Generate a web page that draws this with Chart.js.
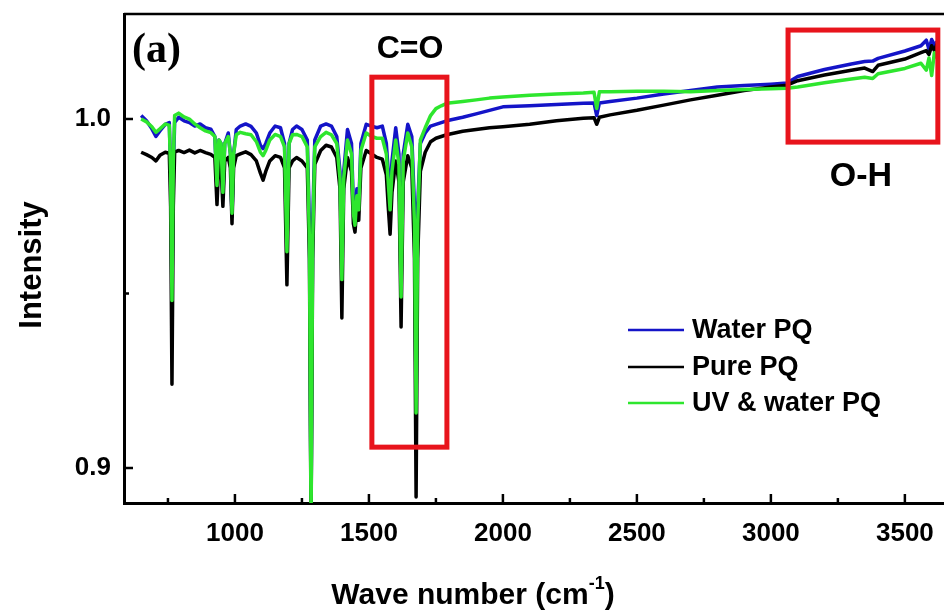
<!DOCTYPE html>
<html>
<head>
<meta charset="utf-8">
<script src="https://cdn.jsdelivr.net/npm/chart.js@4.4.1/dist/chart.umd.min.js"></script>
<style>
  html, body { margin: 0; padding: 0; background: #fff; }
  canvas { display: block; }
</style>
</head>
<body>
<canvas id="ftir" width="944" height="612"></canvas>
<script>
// wave numbers (cm-1) shared by the three spectra
const waveNumbers = [
  650, 670, 690, 705, 720, 740, 755, 760, 765, 770, 775,
  790, 810, 830, 850, 870, 890, 910, 925,
  933, 940, 948, 955, 962, 975, 983, 989, 995, 1005,
  1020, 1040, 1060, 1080, 1095, 1105, 1115, 1130, 1150,
  1170, 1185, 1194, 1202, 1215, 1230, 1250, 1270, 1278, 1284, 1290, 1298,
  1320, 1340, 1360, 1380, 1392, 1399, 1406, 1420, 1435, 1442, 1448, 1455, 1462, 1470,
  1490, 1510, 1530, 1550, 1565, 1572, 1579, 1586, 1600, 1612, 1620, 1628,
  1645, 1660, 1670, 1676, 1682, 1692, 1710, 1730, 1750, 1770, 1790,
  1850, 1900, 1950, 2000, 2100, 2200, 2300, 2340,
  2350, 2360, 2400, 2500, 2600, 2700,
  2800, 2900, 3000, 3060, 3100, 3200, 3300,
  3350, 3380, 3400, 3500, 3560, 3580, 3590, 3600, 3610, 3620
];

const waterPQ = [
  1.0010, 0.9995, 0.9972, 0.9950, 0.9966, 0.9985, 0.9990, 0.9850, 0.9500, 0.9850, 0.9990,
  1.0005, 0.9995, 0.9990, 0.9980, 0.9986, 0.9975, 0.9971, 0.9950,
  0.9800, 0.9940, 0.9930, 0.9780, 0.9930, 0.9960, 0.9900, 0.9720, 0.9900, 0.9970,
  0.9980, 0.9986, 0.9979, 0.9960, 0.9925, 0.9915, 0.9930, 0.9960, 0.9980,
  0.9975, 0.9930, 0.9630, 0.9930, 0.9970, 0.9980, 0.9970, 0.9940, 0.9700, 0.8860, 0.9700, 0.9940,
  0.9980, 0.9986, 0.9980, 0.9950, 0.9850, 0.9570, 0.9850, 0.9970, 0.9930, 0.9750, 0.9700, 0.9800, 0.9750, 0.9930,
  0.9985, 0.9980, 0.9975, 0.9980, 0.9930, 0.9850, 0.9770, 0.9880, 0.9975, 0.9900, 0.9520, 0.9900,
  0.9985, 0.9950, 0.9750, 0.9180, 0.9750, 0.9930, 0.9960, 0.9980, 0.9985, 0.9990, 0.9995,
  1.0005, 1.0015, 1.0025, 1.0035, 1.0038, 1.0042, 1.0045, 1.0046,
  1.0010, 1.0046, 1.0050, 1.0060, 1.0072, 1.0082,
  1.0092, 1.0096, 1.0100, 1.0103, 1.0122, 1.0142, 1.0158,
  1.0165, 1.0166, 1.0174, 1.0195, 1.0210, 1.0226, 1.0200, 1.0228, 1.0212, 1.0222
];

const purePQ = [
  0.9905, 0.9898, 0.9890, 0.9880, 0.9896, 0.9905, 0.9902, 0.9750, 0.9240, 0.9750, 0.9905,
  0.9910, 0.9904, 0.9911, 0.9903, 0.9910, 0.9904, 0.9899, 0.9890,
  0.9755, 0.9880, 0.9870, 0.9750, 0.9880, 0.9890, 0.9860, 0.9700, 0.9860, 0.9895,
  0.9900, 0.9906, 0.9898, 0.9880, 0.9845, 0.9825, 0.9850, 0.9880, 0.9895,
  0.9890, 0.9860, 0.9525, 0.9860, 0.9880, 0.9890, 0.9880, 0.9860, 0.9600, 0.8840, 0.9600, 0.9870,
  0.9910, 0.9925, 0.9920, 0.9890, 0.9800, 0.9430, 0.9800, 0.9890, 0.9850, 0.9700, 0.9676, 0.9750, 0.9710, 0.9860,
  0.9910, 0.9900, 0.9890, 0.9885, 0.9840, 0.9750, 0.9670, 0.9790, 0.9880, 0.9820, 0.9404, 0.9820,
  0.9895, 0.9860, 0.9600, 0.8917, 0.9600, 0.9850, 0.9905, 0.9935, 0.9945, 0.9950, 0.9955,
  0.9965, 0.9970, 0.9975, 0.9978, 0.9985, 0.9995, 1.0002, 1.0004,
  0.9985, 1.0005, 1.0012, 1.0025, 1.0040, 1.0055,
  1.0068, 1.0082, 1.0092, 1.0097, 1.0110, 1.0126, 1.0140,
  1.0146, 1.0136, 1.0154, 1.0172, 1.0190, 1.0196, 1.0185, 1.0210, 1.0196, 1.0215
];

const uvWaterPQ = [
  1.0000, 0.9992, 0.9978, 0.9962, 0.9972, 0.9986, 0.9982, 0.9850, 0.9480, 0.9880, 1.0010,
  1.0017, 1.0006, 1.0000, 0.9986, 0.9975, 0.9966, 0.9961, 0.9950,
  0.9810, 0.9940, 0.9930, 0.9790, 0.9930, 0.9950, 0.9900, 0.9730, 0.9900, 0.9955,
  0.9962, 0.9958, 0.9955, 0.9935, 0.9905, 0.9895, 0.9910, 0.9940, 0.9956,
  0.9950, 0.9920, 0.9620, 0.9930, 0.9955, 0.9956, 0.9950, 0.9920, 0.9650, 0.8840, 0.9650, 0.9920,
  0.9950, 0.9962, 0.9955, 0.9930, 0.9830, 0.9540, 0.9830, 0.9940, 0.9900, 0.9730, 0.9696, 0.9780, 0.9740, 0.9910,
  0.9960, 0.9950, 0.9945, 0.9945, 0.9900, 0.9820, 0.9740, 0.9850, 0.9940, 0.9870, 0.9490, 0.9880,
  0.9960, 0.9920, 0.9700, 0.9158, 0.9700, 0.9940, 0.9975, 1.0010, 1.0030, 1.0038, 1.0045,
  1.0050, 1.0055, 1.0060, 1.0063, 1.0068, 1.0072, 1.0075, 1.0077,
  1.0030, 1.0078, 1.0078, 1.0080, 1.0080, 1.0078,
  1.0082, 1.0085, 1.0087, 1.0088, 1.0092, 1.0104, 1.0115,
  1.0120, 1.0116, 1.0130, 1.0145, 1.0160, 1.0140, 1.0175, 1.0125, 1.0190, 1.0175
];

const seriesNames = ['Water PQ', 'Pure PQ', 'UV & water PQ'];
const seriesColors = ['#1414c8', '#000000', '#2ee62e'];

const xTicks = [1000, 1500, 2000, 2500, 3000, 3500];
const xMinorTicks = [750, 1250, 1750, 2250, 2750, 3250];
const yTicks = [0.9, 1.0];
const yMinorTicks = [0.95];

// highlighted bands (wave number / intensity ranges)
const boxes = [
  { x0: 1511, x1: 1791, y0: 1.012, y1: 0.906 },
  { x0: 3064, x1: 3623, y0: 1.0255, y1: 0.9934 }
];

const SANS = '"Liberation Sans", Arial, sans-serif';

const toPoints = vals => waveNumbers.map((x, i) => ({ x: x, y: vals[i] }));

const noPadding = axis => {
  axis.paddingTop = 0; axis.paddingBottom = 0;
  axis.paddingLeft = 0; axis.paddingRight = 0;
};

const decor = {
  id: 'decor',
  afterDatasetsDraw(chart) {
    const ctx = chart.ctx;
    const xs = chart.scales.x, ys = chart.scales.y;
    ctx.save();
    ctx.strokeStyle = '#e8141c';
    ctx.lineWidth = 5;
    boxes.forEach(b => {
      const l = xs.getPixelForValue(b.x0), r = xs.getPixelForValue(b.x1);
      const t = ys.getPixelForValue(b.y0), btm = ys.getPixelForValue(b.y1);
      ctx.strokeRect(l, t, r - l, btm - t);
    });
    ctx.restore();
  },
  afterDraw(chart) {
    const ctx = chart.ctx;
    const a = chart.chartArea;
    const xs = chart.scales.x, ys = chart.scales.y;
    ctx.save();
    ctx.strokeStyle = '#000';
    ctx.lineWidth = 2.5;

    // top frame line
    ctx.beginPath();
    ctx.moveTo(a.left, a.top);
    ctx.lineTo(chart.width, a.top);
    ctx.stroke();

    // inward ticks
    ctx.beginPath();
    xTicks.forEach(v => { const p = xs.getPixelForValue(v); ctx.moveTo(p, a.bottom); ctx.lineTo(p, a.bottom - 9); });
    xMinorTicks.forEach(v => { const p = xs.getPixelForValue(v); ctx.moveTo(p, a.bottom); ctx.lineTo(p, a.bottom - 5); });
    yTicks.forEach(v => { const p = ys.getPixelForValue(v); ctx.moveTo(a.left, p); ctx.lineTo(a.left + 9, p); });
    yMinorTicks.forEach(v => { const p = ys.getPixelForValue(v); ctx.moveTo(a.left, p); ctx.lineTo(a.left + 5, p); });
    ctx.stroke();

    // labels inside the plot
    ctx.fillStyle = '#000';
    ctx.textBaseline = 'alphabetic';
    ctx.textAlign = 'left';
    ctx.font = 'bold 42px "Liberation Serif", "Times New Roman", serif';
    ctx.fillText('(a)', 132, 62);
    ctx.textAlign = 'center';
    ctx.font = 'bold 32px ' + SANS;
    ctx.fillText('C=O', 410, 58);
    ctx.font = 'bold 34px ' + SANS;
    ctx.fillText('O-H', 861, 186);

    // legend
    const rows = [330, 367, 403];
    ctx.textAlign = 'left';
    ctx.textBaseline = 'middle';
    ctx.font = 'bold 27px ' + SANS;
    seriesNames.forEach((name, i) => {
      ctx.strokeStyle = seriesColors[i];
      ctx.lineWidth = 2.5;
      ctx.beginPath();
      ctx.moveTo(628, rows[i]);
      ctx.lineTo(684, rows[i]);
      ctx.stroke();
      ctx.fillText(name, 692, rows[i] + 1);
    });

    // y title
    ctx.save();
    ctx.translate(32, 265);
    ctx.rotate(-Math.PI / 2);
    ctx.textAlign = 'center';
    ctx.textBaseline = 'middle';
    ctx.font = 'bold 31px ' + SANS;
    ctx.fillText('Intensity', 0, 0);
    ctx.restore();

    // x title with superscript
    ctx.textBaseline = 'alphabetic';
    ctx.textAlign = 'left';
    const main = 'Wave number (cm';
    const fMain = 'bold 30px ' + SANS, fSup = 'bold 18px ' + SANS;
    ctx.font = fMain;
    const w1 = ctx.measureText(main).width, w3 = ctx.measureText(')').width;
    ctx.font = fSup;
    const w2 = ctx.measureText('-1').width;
    let x = 473 - (w1 + w2 + w3) / 2;
    const base = 604;
    ctx.font = fMain;
    ctx.fillText(main, x, base);
    x += w1;
    ctx.font = fSup;
    ctx.fillText('-1', x, base - 15);
    x += w2;
    ctx.font = fMain;
    ctx.fillText(')', x, base);
    ctx.restore();
  }
};

new Chart(document.getElementById('ftir'), {
  type: 'line',
  data: {
    datasets: seriesNames.map((name, i) => ({
      label: name,
      data: toPoints([waterPQ, purePQ, uvWaterPQ][i]),
      borderColor: seriesColors[i],
      borderWidth: 3.5,
      borderJoinStyle: 'round',
      pointRadius: 0,
      tension: 0,
      fill: false,
      order: 2 - i
    }))
  },
  options: {
    responsive: false,
    animation: false,
    devicePixelRatio: 1,
    layout: { padding: { top: 14, right: 0, left: 0, bottom: 0 } },
    plugins: { legend: { display: false }, tooltip: { enabled: false } },
    scales: {
      x: {
        type: 'linear',
        min: 586,
        max: 3646,
        afterBuildTicks: axis => { axis.ticks = xTicks.map(v => ({ value: v })); },
        afterFit: axis => { axis.height = 109; noPadding(axis); },
        grid: { drawOnChartArea: false, drawTicks: false },
        border: { display: true, color: '#000', width: 3 },
        ticks: {
          color: '#000',
          padding: 15,
          maxRotation: 0,
          autoSkip: false,
          callback: v => String(v),
          font: { family: SANS, weight: 'bold', size: 26 }
        }
      },
      y: {
        type: 'linear',
        min: 0.89,
        max: 1.0301,
        afterBuildTicks: axis => { axis.ticks = yTicks.map(v => ({ value: v })); },
        afterFit: axis => { axis.width = 124; noPadding(axis); },
        grid: { drawOnChartArea: false, drawTicks: false },
        border: { display: true, color: '#000', width: 3 },
        ticks: {
          color: '#000',
          padding: 13,
          callback: v => v.toFixed(1),
          font: { family: SANS, weight: 'bold', size: 26 }
        }
      }
    }
  },
  plugins: [decor]
});
</script>
</body>
</html>
